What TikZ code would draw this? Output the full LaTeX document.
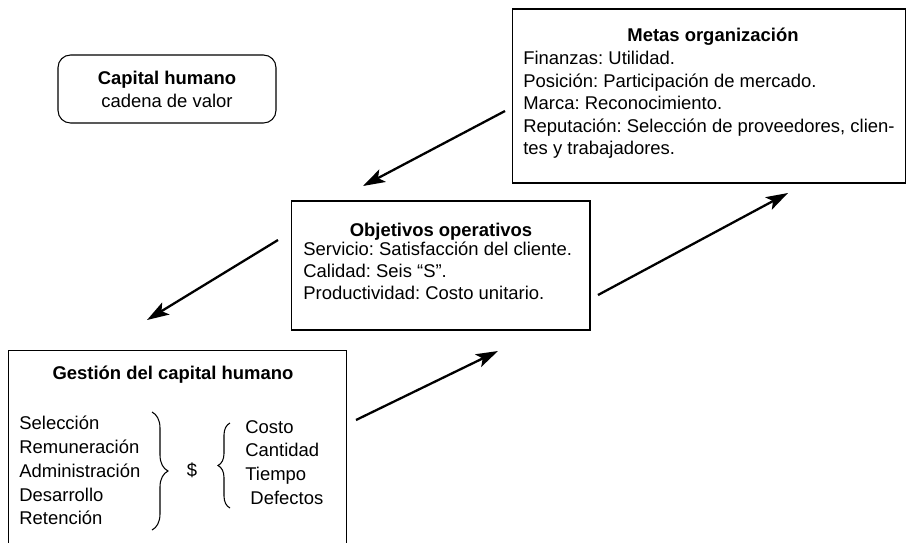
\documentclass[tikz,border=0pt]{standalone}
\usepackage{fontspec}
\setmainfont{Liberation Sans}
\usetikzlibrary{arrows.meta}
\usetikzlibrary{decorations,decorations.pathreplacing}
\frenchspacing

\tikzset{
	caja/.style={draw, line width=0.6pt, inner sep=0pt},
	titulo/.style={inner sep=0pt, anchor=base, font=\fontsize{10.5}{12.5}\selectfont\bfseries},
	texto/.style={inner sep=0pt, align=left, font=\fontsize{10.5}{#1}\selectfont},
	flecha/.style={line width=1.3pt, -{Stealth[length=0.44cm,width=0.28cm,inset=0.1cm]}},
	llave/.style={decorate, decoration={brace,amplitude=#1}, line width=0.6pt}
}

\begin{document}
\begin{tikzpicture}[x=0.02cm, y=-0.02cm]
				\useasboundingbox (0,0) rectangle (907,542);

				\node[caja, rounded corners=0.25cm, minimum width=4.36cm, minimum height=1.36cm, align=center, font=\fontsize{10.5}{13}\selectfont] (capital) at (167,89) {\textbf{Capital humano}\\cadena de valor};

				\node[caja, minimum width=7.88cm, minimum height=3.48cm] (metas) at (709,96) {};
				\node[titulo] (metastit) at (713,41) {Metas organización};
				\node[texto=12.8pt, anchor=north west] (metaslista) at (523,51) {Finanzas: Utilidad.\\Posición: Participación de mercado.\\Marca: Reconocimiento.\\Reputación: Selección de proveedores, clien-\\tes y trabajadores.};

				\node[caja, minimum width=5.98cm, minimum height=2.58cm] (objetivos) at (440.5,265.5) {};
				\node[titulo] (objtit) at (441,236) {Objetivos operativos};
				\node[texto=12.5pt, anchor=north west] (objlista) at (303,242) {Servicio: Satisfacción del cliente.\\Calidad: Seis “S”.\\Productividad: Costo unitario.};

				\node[caja, minimum width=6.78cm, minimum height=4.2cm] (gestion) at (177.5,455) {};
				\node[titulo] (gestit) at (173,379) {Gestión del capital humano};
				\node[texto=13.5pt, anchor=north west] (funciones) at (19,416) {Selección\\Remuneración\\Administración\\Desarrollo\\Retención};
				\node[texto=13.5pt] (dinero) at (192,470) {\$};
				\node[texto=13.5pt, anchor=north west] (medidas) at (245,420) {Costo\\Cantidad\\Tiempo\\~Defectos};
				\draw[llave=0.32cm] (152,412) -- (152,530);
				\draw[llave=0.24cm] (230,508) -- (230,423);

				\coordinate (m1) at (505,111);
				\coordinate (o1) at (363,186);
				\coordinate (o2) at (278,240);
				\coordinate (g1) at (147,320);
				\coordinate (g2) at (356,420);
				\coordinate (o3) at (498,351);
				\coordinate (o4) at (598,295);
				\coordinate (m2) at (788,193);
				\draw[flecha] (m1) -- (o1);
				\draw[flecha] (o2) -- (g1);
				\draw[flecha] (g2) -- (o3);
				\draw[flecha] (o4) -- (m2);
			\end{tikzpicture}
\end{document}
